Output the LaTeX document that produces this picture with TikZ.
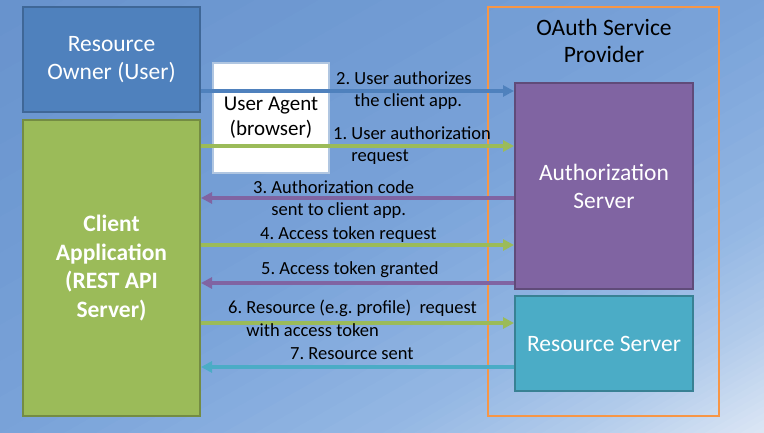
\documentclass[tikz,border=0pt]{standalone}
\usepackage{fontspec}
\setmainfont{Carlito}
\usetikzlibrary{positioning}
\usetikzlibrary{arrows.meta}
\usetikzlibrary{calc}
\definecolor{bgA}{HTML}{6893CD}
\definecolor{bgB}{HTML}{7AA3D9}
\definecolor{bgC}{HTML}{95B8E4}
\definecolor{bgD}{HTML}{B3CCEB}
\definecolor{bgE}{HTML}{DDE7F5}
\definecolor{ownerblue}{HTML}{4F81BD}
\definecolor{clientgreen}{HTML}{9BBB59}
\definecolor{authpurple}{HTML}{8064A2}
\definecolor{rescyan}{HTML}{4BACC6}
\definecolor{provorange}{HTML}{F79646}
\tikzstyle{box}=[rectangle,draw,line width=2pt,inner sep=0pt,align=center,text=white,font=\fontsize{23.5}{28}\selectfont]
\tikzstyle{ownerbox}=[box,fill=ownerblue,draw=ownerblue!80!black]
\tikzstyle{clientbox}=[box,fill=clientgreen,draw=clientgreen!75!black,font=\bfseries\fontsize{23.5}{28.5}\selectfont]
\tikzstyle{authbox}=[box,fill=authpurple,draw=authpurple!75!black]
\tikzstyle{resbox}=[box,fill=rescyan,draw=rescyan!75!black]
\tikzstyle{agentbox}=[rectangle,draw=ownerblue!45!white,line width=1.5pt,fill=white,inner sep=0pt,align=center,font=\fontsize{21}{25}\selectfont]
\tikzstyle{provbox}=[rectangle,draw=provorange,line width=2.5pt,inner sep=0pt]
\tikzstyle{flow}=[line width=4pt,-{Triangle[length=11pt,width=11pt]}]
\tikzstyle{steplabel}=[anchor=base west,inner sep=0pt,align=left,font=\fontsize{18.5}{22.5}\selectfont]

\begin{document}
\begin{tikzpicture}[x=1pt,y=-1pt]

    \useasboundingbox (0,0) rectangle (764,433);
    % background
    \begin{scope}
    \clip (0,0) rectangle (764,433);
    \foreach \ca/\cb/\cola/\colb/\n in {0/1/bgA/bgB/12, 1/1.5/bgB/bgC/12, 1.5/1.75/bgC/bgD/12, 1.75/2/bgD/bgE/16} {
        \foreach \i in {0,...,\n} {
            \pgfmathsetmacro\c{\ca+(\cb-\ca)*\i/\n}
            \pgfmathsetmacro\p{100*\i/\n}
            \fill[\colb!\p!\cola] (764*\c,0) -- (2000,0) -- (2000,1000) -- (0,1000) -- (0,433*\c) -- cycle;
        }
    }
    \end{scope}

    % provider side
    \node[provbox,minimum width=231pt,minimum height=409pt] (provider) at (603.5,211.5) {};
    \node[font=\fontsize{23.5}{27}\selectfont,align=center] (provtitle) at (604,41) {OAuth Service\\Provider};
    \node[authbox,minimum width=178pt,minimum height=206pt] (authsrv) at (604,186) {Authorization\\Server};
    \node[resbox,minimum width=178pt,minimum height=95pt] (ressrv) at (604,343.5) {Resource Server};

    % client side
    \node[ownerbox,minimum width=177pt,minimum height=105pt] (owner) at (111.5,60) {Resource\\Owner (User)};
    \node[clientbox,minimum width=177pt,minimum height=296pt] (client) at (111.5,268) {Client\\Application\\(REST API\\Server)};
    \node[agentbox,minimum width=116pt,minimum height=110pt] (agent) at (271,118) {User Agent\\(browser)};

    % flows
    \foreach \y/\from/\to/\col in {91/owner.east/authsrv.west/ownerblue, 146/client.east/authsrv.west/clientgreen,
        198/authsrv.west/client.east/authpurple, 245/client.east/authsrv.west/clientgreen,
        283/authsrv.west/client.east/authpurple, 323/client.east/ressrv.west/clientgreen,
        367/ressrv.west/client.east/rescyan}
        \draw[flow,\col] (\from |- 0,\y) -- (\to |- 0,\y);

    % step labels (base = last line)
    \node[steplabel] (step2) at (336,107) {2.~User authorizes\\\phantom{2.~}the client app.};
    \node[steplabel] (step1) at (333,162) {1.~User authorization\\\phantom{1.~}request};
    \node[steplabel] (step3) at (253,216) {3.~Authorization code\\\phantom{3.~}sent to client app.};
    \node[steplabel] (step4) at (260,240) {4.~Access token request};
    \node[steplabel] (step5) at (261,275) {5.~Access token granted};
    \node[steplabel] (step6) at (228,336) {6.~Resource (e.g.~profile)~~request\\\phantom{6.~}with access token};
    \node[steplabel] (step7) at (290,359) {7.~Resource sent};

\end{tikzpicture}
\end{document}
